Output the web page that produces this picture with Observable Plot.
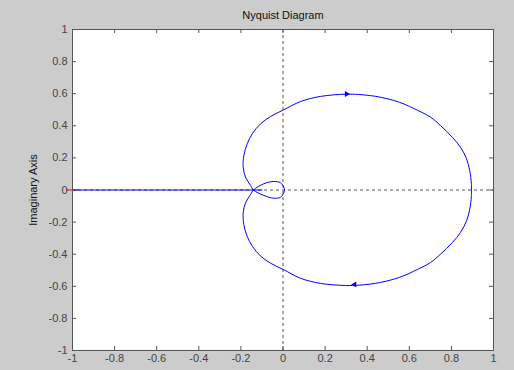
<!DOCTYPE html>
<html><head><meta charset="utf-8">
<script src="https://cdn.jsdelivr.net/npm/d3@7"></script>
<script src="https://cdn.jsdelivr.net/npm/@observablehq/plot@0.6"></script>
<style>html,body{margin:0;padding:0;background:#cccccc;}</style>
</head><body><div id="chart"></div>
<script>
const xTicks = [-1,-0.8,-0.6,-0.4,-0.2,0,0.2,0.4,0.6,0.8,1];
const yTicks = [-1,-0.8,-0.6,-0.4,-0.2,0,0.2,0.4,0.6,0.8,1];
const curveRe = [0.895,0.895,0.887,0.872,0.843,0.804,0.748,0.701,0.621,0.580,0.526,0.463,0.416,0.360,0.297,0.178,0.083,0.004,-0.059,-0.107,-0.146,-0.170,-0.186,-0.189,-0.178,-0.154,-0.140,
 -0.091,-0.044,-0.012,0.004,0.007,0.004,-0.012,-0.044,-0.091,-0.140,
 -0.154,-0.178,-0.189,-0.186,-0.170,-0.146,-0.107,-0.059,0.004,0.083,0.178,0.297,0.360,0.416,0.463,0.526,0.580,0.621,0.701,0.748,0.804,0.843,0.872,0.887,0.895,0.895];
const curveIm = [0,0.039,0.121,0.194,0.267,0.329,0.402,0.454,0.508,0.533,0.558,0.578,0.588,0.595,0.597,0.583,0.551,0.500,0.458,0.412,0.350,0.288,0.215,0.142,0.080,0.028,0,
 -0.034,-0.051,-0.045,-0.017,0,0.017,0.045,0.053,0.039,0,
 -0.028,-0.080,-0.142,-0.216,-0.289,-0.350,-0.411,-0.456,-0.497,-0.550,-0.582,-0.595,-0.593,-0.586,-0.576,-0.556,-0.531,-0.506,-0.452,-0.400,-0.328,-0.265,-0.192,-0.120,-0.040,0];
// segment along the negative real axis
const axisSegRe = [-1, -0.1];
const axisSegIm = [0, 0];
// direction arrows
const arrowRe = [0.302, 0.340];
const arrowIm = [0.598, -0.589];
const arrowDir = [90, -90];
// critical point
const critRe = [-1];
const critIm = [0];

const curve = curveRe.map((r,i)=>({re:r, im:curveIm[i]}));
const seg = axisSegRe.map((r,i)=>({re:r, im:axisSegIm[i]}));
const arrows = arrowRe.map((r,i)=>({re:r, im:arrowIm[i], a:arrowDir[i]}));
const crit = critRe.map((r,i)=>({re:r, im:critIm[i]}));
const fmt = d => d === 0 ? "0" : String(Math.round(d*10)/10);
const axisCol = "#555555";

const plot = Plot.plot({
  width:514, height:370,
  marginLeft:72, marginRight:21, marginTop:29, marginBottom:20,
  style:{background:"#cccccc", fontFamily:"'Liberation Sans', Arial, sans-serif", fontSize:"11px", overflow:"visible"},
  x:{domain:[-1,1]}, y:{domain:[-1,1]},
  marks:[
    Plot.frame({fill:"white", stroke:null}),
    Plot.ruleX([0], {stroke:axisCol, strokeDasharray:"3,3"}),
    Plot.ruleY([0], {stroke:axisCol, strokeDasharray:"3,3"}),
    Plot.ruleY(crit, {y:"im", x1:"re", x2:"re", insetLeft:-6, insetRight:-6, stroke:"red"}),
    Plot.ruleX(crit, {x:"re", y1:"im", y2:"im", insetTop:-6, insetBottom:-6, stroke:"red"}),
    Plot.line(seg, {x:"re", y:"im", stroke:"#0000ff", strokeWidth:1}),
    Plot.line(curve, {x:"re", y:"im", stroke:"#0000ff", strokeWidth:1, curve:"catmull-rom"}),
    Plot.dot(arrows, {x:"re", y:"im", symbol:"triangle", fill:"#0000ff", stroke:null, r:2.2, rotate:"a"}),
    Plot.tickX(xTicks, {x:d=>d, insetTop:317, stroke:axisCol}),
    Plot.tickX(xTicks, {x:d=>d, insetBottom:317, stroke:axisCol}),
    Plot.tickY(yTicks, {y:d=>d, insetRight:417, stroke:axisCol}),
    Plot.tickY(yTicks, {y:d=>d, insetLeft:417, stroke:axisCol}),
    Plot.frame({stroke:axisCol}),
    Plot.axisX(xTicks, {anchor:"bottom", tickSize:0, tickPadding:4, tickFormat:fmt, label:null, fill:"#444"}),
    Plot.axisY(yTicks, {anchor:"left", tickSize:0, tickPadding:5, tickFormat:fmt, label:null, fill:"#444"}),
    Plot.text(["Nyquist Diagram"], {text:d=>d, frameAnchor:"top", dy:-14, lineAnchor:"middle", fill:"#111"}),
    Plot.text(["Imaginary Axis"], {text:d=>d, frameAnchor:"left", dx:-39, rotate:-90, textAnchor:"middle", lineAnchor:"middle", fill:"#111"})
  ]
});
document.getElementById("chart").appendChild(plot);
</script>
</body></html>
